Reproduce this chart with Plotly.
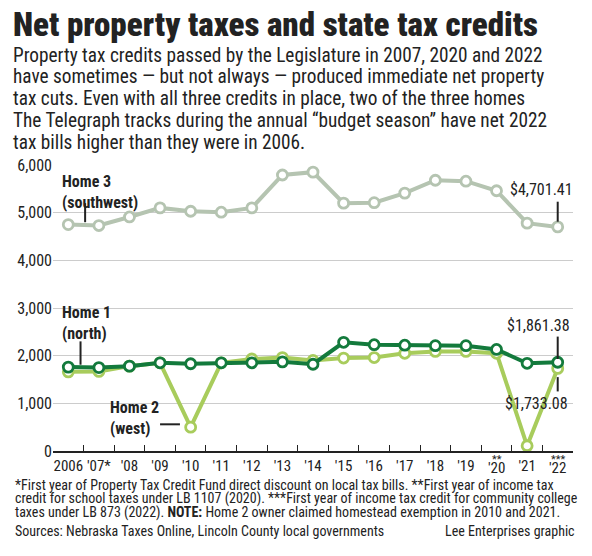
import plotly.graph_objects as go

# data
years = ["2006", "2007", "2008", "2009", "2010", "2011", "2012", "2013", "2014",
         "2015", "2016", "2017", "2018", "2019", "2020", "2021", "2022"]
tick_labels = ["2006", "'07*", "'08", "'09", "'10", "'11", "'12", "'13", "'14",
               "'15", "'16", "'17", "'18", "'19", "", "'21", ""]
home1 = [1760, 1750, 1780, 1850, 1830, 1850, 1850, 1870, 1820,
         2280, 2230, 2220, 2210, 2210, 2130, 1840, 1861.38]
home2 = [1660, 1670, 1780, 1850, 500, 1850, 1930, 1960, 1900,
         1950, 1960, 2050, 2090, 2090, 2050, 110, 1733.08]
home3 = [4750, 4730, 4910, 5100, 5030, 5010, 5100, 5790, 5850,
         5200, 5210, 5410, 5680, 5660, 5460, 4780, 4701.41]

title = "Net property taxes and state tax credits"
intro = [
    "Property tax credits passed by the Legislature in 2007, 2020 and 2022",
    "have sometimes \u2014 but not always \u2014 produced immediate net property",
    "tax cuts. Even with all three credits in place, two of the three homes",
    "The Telegraph tracks during the annual \u201cbudget season\u201d have net 2022",
    "tax bills higher than they were in 2006.",
]
notes = [
    "*First year of Property Tax Credit Fund direct discount on local tax bills. **First year of income tax",
    "credit for school taxes under LB 1107 (2020). ***First year of income tax credit for community college",
    "taxes under LB 873 (2022). <b>NOTE:</b> Home 2 owner claimed homestead exemption in 2010 and 2021.",
]
source = "Sources: Nebraska Taxes Online, Lincoln County local governments"
credit = "Lee Enterprises graphic"

FONT = "Liberation Sans Narrow, Arial Narrow, Roboto Condensed, Roboto, sans-serif"
DARK = "#137a3c"
LIGHT = "#a8cc5c"
GRAY = "#b5c4b1"
INK = "#222222"

W, H = 592, 556
L, R, T, B = 53, 19, 165, 105


def px_x(px):
    return (px - L) / (W - L - R)


def px_y(py):
    return (H - B - py) / (H - T - B)


fig = go.Figure()
for vals, col in [(home3, GRAY), (home2, LIGHT), (home1, DARK)]:
    fig.add_trace(go.Scatter(
        x=years, y=vals, mode="lines+markers",
        line=dict(color=col, width=4),
        marker=dict(size=10, color="white", line=dict(color=col, width=2.8)),
        showlegend=False, hoverinfo="skip",
    ))

# leader lines
for x0, y0, x1, y1 in [(0.55, 4800, 0.55, 5200), (16, 4810, 16, 5230),
                       (0.4, 1810, 0.4, 2300), (3.0, 560, 3.65, 560),
                       (16, 1930, 16, 2400), (16, 1250, 16, 1550)]:
    fig.add_shape(type="line", xref="x", yref="y", x0=x0, y0=y0, x1=x1, y1=y1,
                  line=dict(color=INK, width=2))

labels = [
    (-0.28, 5890, "<b>Home 3<br>(southwest)</b>", "left", "top", 0),
    (-0.28, 3140, "<b>Home 1<br>(north)</b>", "left", "top", 0),
    (1.3, 1150, "<b>Home 2<br>(west)</b>", "left", "top", 0),
    (16.45, 5250, "$4,701.41", "right", "bottom", 4),
    (16.45, 2400, "$1,861.38", "right", "bottom", 1),
    (16.45, 1230, "$1,733.08", "right", "top", -1),
]
for x, y, txt, xa, ya, dx in labels:
    fig.add_annotation(x=x, y=y, xref="x", yref="y", text=txt, showarrow=False,
                       xanchor=xa, yanchor=ya, align="left", xshift=dx,
                       font=dict(family=FONT, size=16, color=INK))

# two-line tick labels for '20 and '22
for idx, stars, lab in [(14, "**", "'20"), (16, "***", "'22")]:
    fig.add_annotation(x=idx, y=px_y(459), xref="x", yref="paper", text=stars,
                       showarrow=False, yanchor="middle",
                       font=dict(family=FONT, size=11, color=INK))
    fig.add_annotation(x=idx, y=px_y(468), xref="x", yref="paper", text=lab,
                       showarrow=False, yanchor="middle",
                       font=dict(family=FONT, size=15, color=INK))

fig.add_annotation(x=px_x(11), y=px_y(24), xref="paper", yref="paper", text=title,
                   showarrow=False, xanchor="left", yanchor="middle",
                   font=dict(family=FONT, size=33, color=INK, weight=900))
for i, line in enumerate(intro):
    fig.add_annotation(x=px_x(11), y=px_y(55 + 21.8 * i), xref="paper", yref="paper", text=line,
                       showarrow=False, xanchor="left", yanchor="middle",
                       font=dict(family=FONT, size=19.3, color=INK))
for i, line in enumerate(notes):
    fig.add_annotation(x=px_x(13), y=px_y(485 + 13.5 * i), xref="paper", yref="paper", text=line,
                       showarrow=False, xanchor="left", yanchor="middle",
                       font=dict(family=FONT, size=14, color=INK))
fig.add_annotation(x=px_x(13), y=px_y(531), xref="paper", yref="paper", text=source,
                   showarrow=False, xanchor="left", yanchor="middle",
                   font=dict(family=FONT, size=14, color=INK))
fig.add_annotation(x=px_x(577), y=px_y(531), xref="paper", yref="paper", text=credit,
                   showarrow=False, xanchor="right", yanchor="middle",
                   font=dict(family=FONT, size=14, color=INK))

fig.update_layout(
    width=W, height=H,
    margin=dict(l=L, r=R, t=T, b=B),
    paper_bgcolor="white", plot_bgcolor="white",
    font=dict(family=FONT, size=16, color=INK),
)
fig.update_xaxes(type="category", range=[-0.5, 16.5], tickvals=years, ticktext=tick_labels,
                 tickangle=0, automargin=False,
                 tickson="boundaries", ticks="inside", ticklen=6, tickcolor=INK,
                 showline=True, linecolor=INK, linewidth=1.5, showgrid=False,
                 tickfont=dict(family=FONT, size=15, color=INK))
fig.update_yaxes(range=[0, 6000], dtick=1000, tickformat=",", showgrid=True, automargin=False,
                 gridcolor="#cccccc", gridwidth=1, zeroline=False, showline=False,
                 tickfont=dict(family=FONT, size=16, color=INK))

# drop the browser's default page margin so the figure sits at the window corner
fig.write_html("out.html", config={"displayModeBar": False},
               post_script="document.body.style.margin='0';")
